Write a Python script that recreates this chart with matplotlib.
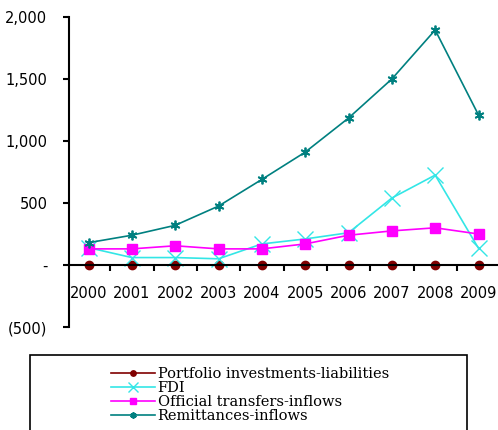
import matplotlib
matplotlib.use('Agg')
import matplotlib.pyplot as plt
from matplotlib.patches import Rectangle
from matplotlib.ticker import FixedLocator

years = ['2000', '2001', '2002', '2003', '2004', '2005', '2006', '2007', '2008', '2009']
portfolio = [0, 0, 0, 0, 0, 0, 0, 0, 0, 0]
fdi = [140, 60, 60, 50, 170, 210, 260, 540, 725, 135]
official = [130, 130, 155, 130, 130, 170, 240, 275, 300, 250]
remittances = [180, 240, 320, 475, 690, 910, 1185, 1500, 1895, 1210]
ytick_vals = [-500, 0, 500, 1000, 1500, 2000]
ytick_labels = ['(500)', '-', '500', '1,000', '1,500', '2,000']

W, H = 498, 430
fig = plt.figure(figsize=(W / 100, H / 100), dpi=100)
ax = fig.add_axes([69 / W, 1 - 327 / H, 1 - 69 / W, 310 / H])

x = list(range(len(years)))
ax.plot(x, portfolio, color='#800000', marker='o', markersize=6, lw=1.2,
        label='Portfolio investments-liabilities')
ax.plot(x, fdi, color='#33e6e6', marker='x', markersize=12, mew=1.0, lw=1.2,
        label='FDI')
ax.plot(x, official, color='#ff00ff', marker='s', markersize=7, lw=1.2,
        label='Official transfers-inflows')
ax.plot(x, remittances, color='#008080', marker=(6, 2, 0), markersize=7, mew=1.3,
        lw=1.2, label='Remittances-inflows')

ax.set_xlim(-0.45, 9.45)
ax.set_ylim(-500, 2000)
ax.set_yticks(ytick_vals)
ax.set_yticklabels(ytick_labels)
ax.set_xticks(x)
ax.set_xticklabels(years)
ax.xaxis.set_minor_locator(FixedLocator([i + 0.5 for i in range(len(years) - 1)]))

for s in ['top', 'right']:
    ax.spines[s].set_visible(False)
ax.spines['bottom'].set_position(('data', 0))
ax.spines['left'].set_linewidth(1.5)
ax.spines['bottom'].set_linewidth(1.5)

ax.tick_params(axis='y', direction='out', length=4.5, width=1.5, pad=11,
               labelsize=10.5)
ax.tick_params(axis='x', which='major', length=0, pad=15, labelsize=10.5)
ax.tick_params(axis='x', which='minor', direction='out', length=4.5, width=1.5)
for t in ax.get_xticklabels() + ax.get_yticklabels():
    t.set_family('DejaVu Sans')

# legend frame
fig.patches.append(Rectangle((30 / W, -0.05), 437 / W, 0.05 + 1 - 355 / H,
                             transform=fig.transFigure, fill=False,
                             edgecolor='black', lw=1.2))
leg = fig.legend(loc='upper center', bbox_to_anchor=(250 / W, 1 - 360 / H),
                 frameon=False, prop={'family': 'DejaVu Serif', 'size': 10.5},
                 handlelength=3.0, handletextpad=0.2, labelspacing=0.0,
                 borderpad=0, markerscale=0.65)

fig.savefig('out.png', dpi=100)
